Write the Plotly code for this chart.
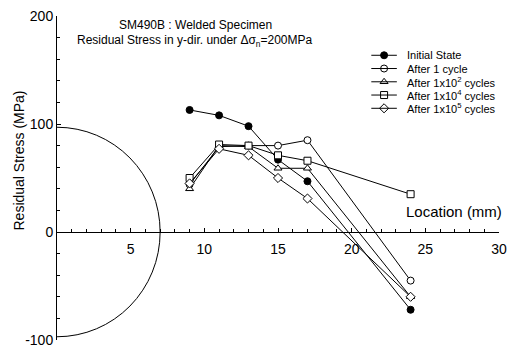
import plotly.graph_objects as go

# ---- data ----
location_mm = [9, 11, 13, 15, 17, 24]
initial_state = [113, 108, 98, 67, 47, -72]
after_1 = [44, 79, 80, 80, 85, -45]
after_1e2 = [40, 80, 79, 59, 59, -60]
after_1e4 = [50, 81, 80, 71, 66, 35]
after_1e5 = [45, 77, 71, 50, 31, -60]

series_names = ["Initial State", "After 1 cycle", "After 1x10<sup>2</sup> cycles",
                "After 1x10<sup>4</sup> cycles", "After 1x10<sup>5</sup> cycles"]
y_tick_vals = [-100, 0, 100, 200]
y_tick_text = ["-100", "0", "100", "200"]
x_tick_vals = [5, 10, 15, 20, 25, 30]
x_tick_text = ["5", "10", "15", "20", "25", "30"]

# weld bead outline (semi-axes in data units)
bead_half_width = 7
bead_half_height = 97

FONT = "Liberation Sans, Arial, sans-serif"

W, H = 515, 356
ML, MR, MT, MB = 57, 8, 15, 11
PW, PH = W - ML - MR, H - MT - MB


def px_x(p):
    return (p - ML) / PW


def px_y(p):
    return 1 - (p - MT) / PH


fig = go.Figure()

styles = [
    dict(symbol="circle", size=7, color="black", line=dict(color="black", width=1)),
    dict(symbol="circle", size=7, color="white", line=dict(color="black", width=1)),
    dict(symbol="triangle-up", size=7, color="white", line=dict(color="black", width=1)),
    dict(symbol="square", size=7, color="white", line=dict(color="black", width=1)),
    dict(symbol="diamond", size=7, color="white", line=dict(color="black", width=1)),
]
series = [initial_state, after_1, after_1e2, after_1e4, after_1e5]

for name, vals, st in zip(series_names, series, styles):
    fig.add_trace(go.Scatter(
        x=location_mm, y=vals, name=name, mode="lines+markers",
        line=dict(color="black", width=1),
        marker=st, cliponaxis=False, showlegend=False,
    ))

fig.add_shape(type="circle", xref="x", yref="y",
              x0=-bead_half_width, x1=bead_half_width,
              y0=-bead_half_height, y1=bead_half_height,
              line=dict(color="black", width=1), layer="below")

# ---- hand-drawn legend (pixel layout) ----
leg_rows = [55, 68.5, 82, 95.5, 109]
leg_x0, leg_x1, leg_text_x = 377, 403, 411
for row, name, st in zip(leg_rows, series_names, styles):
    fig.add_shape(type="line", xref="paper", yref="paper",
                  x0=px_x(leg_x0), x1=px_x(leg_x1), y0=px_y(row), y1=px_y(row),
                  line=dict(color="black", width=1))
    fig.add_trace(go.Scatter(
        x=[(leg_x0 + leg_x1) / 2], y=[row], xaxis="x2", yaxis="y2",
        mode="markers", marker=st, showlegend=False, hoverinfo="skip",
        cliponaxis=False,
    ))
    fig.add_annotation(xref="paper", yref="paper", showarrow=False,
                       x=px_x(leg_text_x), y=px_y(row), xanchor="left", yanchor="middle",
                       text=name, font=dict(size=11, family=FONT))

y0_frac = (0 - (-100)) / 300.0

fig.update_layout(
    width=W, height=H,
    margin=dict(l=ML, r=MR, t=MT, b=MB),
    paper_bgcolor="white", plot_bgcolor="white",
    font=dict(family=FONT, color="black", size=14),
    showlegend=False,
    xaxis=dict(range=[0, 30], anchor="free", position=y0_frac,
               showgrid=False, zeroline=False, showline=True,
               linecolor="black", linewidth=1,
               tickvals=x_tick_vals, ticktext=x_tick_text,
               ticks="inside", ticklen=4, tickcolor="black",
               ticklabelstandoff=4,
               minor=dict(dtick=1, tick0=0, ticks="inside", ticklen=3, tickcolor="black"),
               tickfont=dict(size=14, family=FONT)),
    yaxis=dict(range=[-100, 200], showgrid=False, zeroline=False, showline=True,
               linecolor="black", linewidth=1,
               tickvals=y_tick_vals, ticktext=y_tick_text,
               ticks="inside", ticklen=4, tickcolor="black",
               minor=dict(dtick=20, tick0=0, ticks="inside", ticklen=3, tickcolor="black"),
               tickfont=dict(size=14, family=FONT)),
    xaxis2=dict(range=[ML, W - MR], overlaying="x", visible=False, domain=[0, 1]),
    yaxis2=dict(range=[H - MB, MT], overlaying="y", visible=False),
)

annotations = [
    dict(text="SM490B : Welded Specimen", x=px_x(198), y=px_y(24),
         font=dict(size=12, family=FONT)),
    dict(text="Residual Stress in y-dir. under Δσ<sub>n</sub>=200MPa", x=px_x(198), y=px_y(40),
         font=dict(size=12, family=FONT)),
    dict(text="Location (mm)", x=px_x(512), y=px_y(214), xanchor="right",
         font=dict(size=15, family=FONT)),
    dict(text="Residual Stress (MPa)", x=px_x(18.5), y=px_y(162), textangle=-90,
         font=dict(size=14, family=FONT)),
]
for a in annotations:
    a.setdefault("xanchor", "center")
    fig.add_annotation(xref="paper", yref="paper", showarrow=False, yanchor="middle", **a)

fig.write_html("out.html")
